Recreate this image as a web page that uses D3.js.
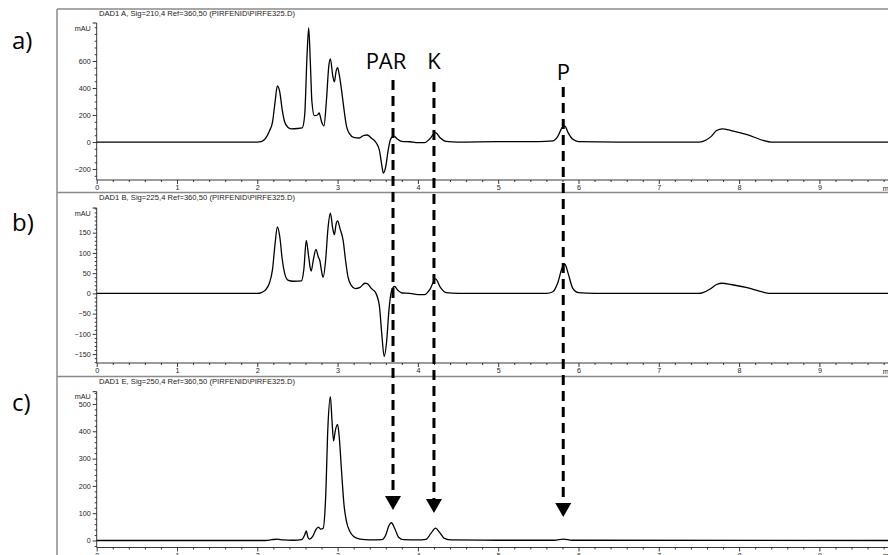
<!DOCTYPE html>
<html>
<head>
<meta charset="utf-8">
<script src="https://cdn.jsdelivr.net/npm/d3@7"></script>
<style>
  body { margin: 0; background: #fff; }
  svg { display: block; }
</style>
</head>
<body>
<div id="visSpace"></div>
<script>
//Retention times (min) and absorbance (mAU)
var timesA = [0, 1.0, 2.0, 2.05, 2.10, 2.15, 2.19, 2.22, 2.25, 2.28, 2.31, 2.34, 2.38, 2.42, 2.50, 2.56,
              2.59, 2.62, 2.64, 2.66, 2.68, 2.71, 2.75, 2.77, 2.80, 2.83, 2.86, 2.89, 2.91, 2.94, 2.96,
              2.98, 3.00, 3.02, 3.05, 3.08, 3.11, 3.15, 3.20, 3.27, 3.33, 3.37, 3.42, 3.48, 3.52, 3.55,
              3.57, 3.60, 3.63, 3.66, 3.70, 3.74, 3.80, 3.90, 4.00, 4.08, 4.15, 4.22, 4.28, 4.35, 4.50,
              5.00, 5.50, 5.68, 5.74, 5.80, 5.83, 5.87, 5.93, 6.00, 6.50, 7.50, 7.55, 7.65, 7.72, 7.79,
              7.90, 8.10, 8.30, 8.40, 10];
var mauA   = [0, 0, 0, 3, 25, 80, 150, 290, 415, 370, 240, 150, 110, 98, 100, 105,
              200, 650, 845, 600, 300, 195, 200, 215, 150, 120, 300, 560, 615, 490, 445,
              520, 550, 500, 380, 240, 120, 60, 35, 30, 50, 52, 30, -5, -60, -170,
              -230, -180, -60, 20, 45, 25, 5, 2, -5, -5, 25, 70, 30, 5, 0,
              3, 3, 8, 40, 110, 118, 70, 20, 3, 0, 0, 5, 40, 85, 97,
              85, 55, 12, 0, 0];

var timesB = [0, 2.0, 2.05, 2.10, 2.15, 2.19, 2.22, 2.25, 2.28, 2.31, 2.34, 2.38, 2.45, 2.55, 2.58,
              2.61, 2.64, 2.67, 2.70, 2.73, 2.76, 2.78, 2.80, 2.82, 2.85, 2.88, 2.91, 2.94, 2.96, 2.98,
              3.00, 3.03, 3.07, 3.10, 3.13, 3.17, 3.22, 3.28, 3.34, 3.37, 3.42, 3.47, 3.52, 3.55, 3.58,
              3.61, 3.64, 3.67, 3.71, 3.75, 3.80, 3.90, 4.00, 4.08, 4.15, 4.22, 4.28, 4.35, 4.50, 5.60,
              5.68, 5.74, 5.80, 5.83, 5.87, 5.93, 6.00, 6.20, 7.50, 7.55, 7.65, 7.72, 7.79, 7.90, 8.10,
              8.30, 8.40, 10];
var mauB   = [0, 0, 2, 8, 25, 60, 120, 164, 140, 85, 50, 33, 30, 31, 60,
              131, 90, 55, 85, 109, 90, 80, 55, 40, 80, 160, 198, 160, 145, 170,
              179, 160, 130, 80, 40, 20, 12, 15, 25, 24, 12, 3, -30, -100, -156,
              -120, -40, 5, 17, 8, 1, 0, -3, -3, 10, 36, 15, 2, 0, 0,
              4, 25, 65, 72, 50, 12, 2, 0, 0, 2, 12, 22, 25, 22, 14,
              3, 0, 0];

var timesC = [0, 2.10, 2.18, 2.25, 2.32, 2.45, 2.55, 2.59, 2.61, 2.63, 2.65, 2.69, 2.73, 2.76, 2.79,
              2.82, 2.85, 2.88, 2.91, 2.93, 2.95, 2.97, 3.00, 3.02, 3.05, 3.08, 3.11, 3.15, 3.20, 3.28,
              3.40, 3.55, 3.60, 3.64, 3.67, 3.71, 3.76, 3.82, 4.00, 4.10, 4.16, 4.22, 4.27, 4.33, 4.42,
              5.00, 5.70, 5.81, 5.92, 10];
var mauC   = [0, 0, 3, 5, 2, 1, 3, 20, 35, 12, 5, 15, 40, 49, 42,
              45, 150, 420, 527, 440, 365, 400, 425, 380, 250, 130, 70, 35, 15, 5,
              2, 3, 20, 55, 65, 45, 12, 3, 2, 4, 25, 45, 30, 8, 2,
              1, 1, 5, 1, 0];

//Panel headers, panel letters and y tick values
var headers = ["DAD1 A, Sig=210,4 Ref=360,50 (PIRFENID\\PIRFE325.D)",
               "DAD1 B, Sig=225,4 Ref=360,50 (PIRFENID\\PIRFE325.D)",
               "DAD1 E, Sig=250,4 Ref=360,50 (PIRFENID\\PIRFE325.D)"];
var letters = ["a)", "b)", "c)"];
var yTicksA = [-200, 0, 200, 400, 600];
var yTicksB = [-150, -100, -50, 0, 50, 100, 150];
var yTicksC = [0, 100, 200, 300, 400, 500];
var xTicks = [0, 1, 2, 3, 4, 5, 6, 7, 8, 9];

//Annotated peaks: label and retention time
var peakNames = ["PAR", "K", "P"];
var peakTimes = [3.69, 4.20, 5.81];

//Set visualization's width and height
var width = 888;
var height = 555;

var svg = d3.select("#visSpace")
            .append("svg")
            .attr("width", width)
            .attr("height", height)
            .attr("font-family", "'Liberation Sans', Arial, sans-serif");

//Shared time axis
var xScale = d3.scaleLinear()
               .domain([0, 10])
               .range([96.7, 899.7]);

//Each panel: where its box sits and how its y axis is scaled
var panels = [
  {times: timesA, mau: mauA, ticks: yTicksA, minor: 50,
   top: 9, yDomain: [-281, 881], yRange: [180, 23], letterY: 49},
  {times: timesB, mau: mauB, ticks: yTicksB, minor: 10,
   top: 192.5, yDomain: [-172, 211], yRange: [363, 208], letterY: 231},
  {times: timesC, mau: mauC, ticks: yTicksC, minor: 20,
   top: 376.5, yDomain: [-25.6, 545], yRange: [547.5, 391.7], letterY: 411}
];

var frameColor = "#8a8a8a";
var axisColor = "#222";

//Left frame line
svg.append("line")
   .attr("x1", 57).attr("x2", 57)
   .attr("y1", 9).attr("y2", height)
   .attr("stroke", frameColor)
   .attr("stroke-width", 1.5);

panels.forEach(function(p, i){
  var g = svg.append("g");
  var yScale = d3.scaleLinear()
                 .domain(p.yDomain)
                 .range(p.yRange);

  //Top separator of the panel
  g.append("line")
   .attr("x1", 57).attr("x2", width)
   .attr("y1", p.top).attr("y2", p.top)
   .attr("stroke", frameColor)
   .attr("stroke-width", 1.5);

  //Header
  g.append("text")
   .attr("x", 99)
   .attr("y", p.top + 7)
   .attr("textLength", 196)
   .attr("font-size", "7.6px")
   .attr("fill", axisColor)
   .text(headers[i]);

  //Panel letter
  g.append("text")
   .attr("x", 12)
   .attr("y", p.letterY)
   .attr("font-family", "'Open Sans', 'Noto Sans', sans-serif")
   .attr("font-size", "24px")
   .attr("fill", "#000")
   .text(letters[i]);

  //y axis: major ticks with labels, minor ticks without
  var yAxis = d3.axisLeft(yScale)
                .tickValues(p.ticks)
                .tickSize(4)
                .tickPadding(2)
                .tickFormat(d3.format("d"));
  var minorVals = d3.range(Math.ceil(p.yDomain[0] / p.minor) * p.minor, p.yDomain[1], p.minor)
                    .filter(function(v){ return p.ticks.indexOf(v) < 0; });
  var yMinor = d3.axisLeft(yScale)
                 .tickValues(minorVals)
                 .tickSize(2)
                 .tickFormat("");
  var yG = g.append("g")
            .attr("transform", "translate(" + xScale(0) + ",0)")
            .call(yAxis);
  g.append("g")
   .attr("transform", "translate(" + xScale(0) + ",0)")
   .call(yMinor)
   .select(".domain").remove();
  yG.select(".domain").attr("d", "M0," + p.yRange[1] + "V" + p.yRange[0]);

  //mAU label at the top of the y axis
  g.append("line")
   .attr("x1", xScale(0) - 4).attr("x2", xScale(0))
   .attr("y1", p.yRange[1]).attr("y2", p.yRange[1])
   .attr("stroke", axisColor);
  g.append("text")
   .attr("x", xScale(0) - 6)
   .attr("y", p.yRange[1] + 7.5)
   .attr("text-anchor", "end")
   .attr("font-size", "7.2px")
   .attr("fill", axisColor)
   .text("mAU");

  //x axis at the bottom of the panel
  var xAxis = d3.axisBottom(xScale)
                .tickValues(xTicks)
                .tickSize(4)
                .tickPadding(1)
                .tickFormat(d3.format("d"));
  var xMinor = d3.axisBottom(xScale)
                 .tickValues(d3.range(0.2, 10, 0.2).filter(function(v){
                    return Math.abs(v - Math.round(v)) > 0.01; }))
                 .tickSize(2)
                 .tickFormat("");
  var xG = g.append("g")
            .attr("transform", "translate(0," + p.yRange[0] + ")")
            .call(xAxis);
  g.append("g")
   .attr("transform", "translate(0," + p.yRange[0] + ")")
   .call(xMinor)
   .select(".domain").remove();
  xG.select(".domain").attr("d", "M" + xScale(0) + ",0H" + width);
  g.append("text")
   .attr("x", xScale(10) - 17)
   .attr("y", p.yRange[0] + 10.5)
   .attr("font-size", "7.2px")
   .attr("fill", axisColor)
   .text("min");

  //Style the axes
  g.selectAll(".tick text")
   .attr("font-size", "7.2px")
   .attr("font-family", "'Liberation Sans', Arial, sans-serif")
   .attr("fill", axisColor);
  g.selectAll(".domain, .tick line")
   .attr("stroke", axisColor)
   .attr("stroke-width", 0.9);

  //The chromatogram trace
  var line = d3.line()
               .x(function(d){ return xScale(d[0]); })
               .y(function(d){ return yScale(d[1]); })
               .curve(d3.curveMonotoneX);
  var pts = p.times.map(function(t, k){ return [t, p.mau[k]]; });
  g.append("path")
   .datum(pts)
   .attr("d", line)
   .attr("fill", "none")
   .attr("stroke", "#000")
   .attr("stroke-width", 1.3);
});

//Dashed arrows that run down through all panels to the peaks in c)
var labelY = [69, 69, 80];
var lineTop = [80, 82, 87];
var tipY = [510, 513, 517];
var ann = svg.append("g");
peakNames.forEach(function(name, i){
  var x = xScale(peakTimes[i]);
  ann.append("text")
     .attr("x", x - (name == "PAR" ? 7 : 0))
     .attr("y", labelY[i])
     .attr("text-anchor", "middle")
     .attr("font-family", "'Open Sans', 'Noto Sans', sans-serif")
     .attr("font-size", "22px")
     .attr("fill", "#000")
     .text(name);
  ann.append("line")
     .attr("x1", x).attr("x2", x)
     .attr("y1", lineTop[i]).attr("y2", tipY[i] - 13)
     .attr("stroke", "#000")
     .attr("stroke-width", 3)
     .attr("stroke-dasharray", "10,6");
  ann.append("path")
     .attr("d", "M" + (x - 8) + "," + (tipY[i] - 14) + "L" + (x + 8) + "," + (tipY[i] - 14)
                + "L" + x + "," + tipY[i] + "Z")
     .attr("fill", "#000");
});
</script>
</body>
</html>
